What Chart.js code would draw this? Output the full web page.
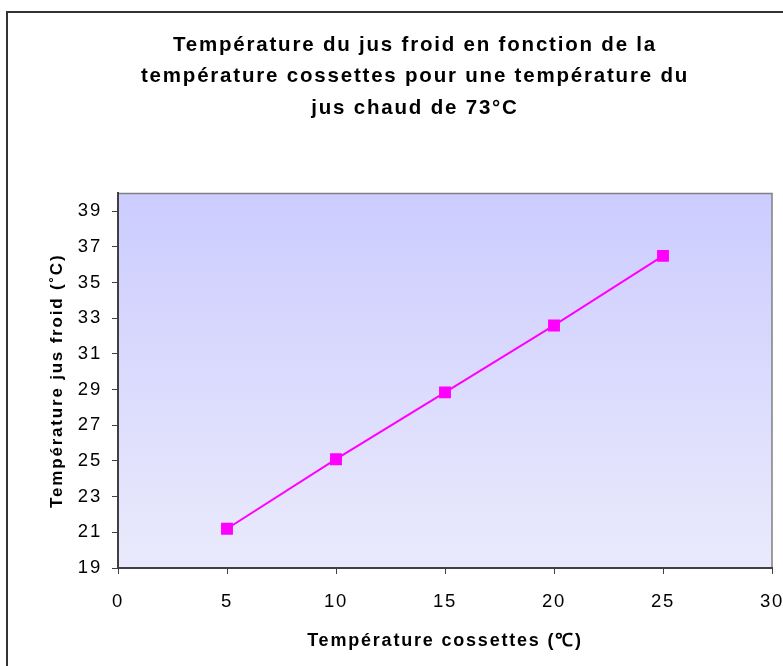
<!DOCTYPE html>
<html>
<head>
<meta charset="utf-8">
<script src="https://cdn.jsdelivr.net/npm/chart.js@4"></script>
<style>
  html, body { margin: 0; padding: 0; background: #ffffff; }
  #wrap { position: relative; width: 783px; height: 666px; }
</style>
</head>
<body>
<div id="wrap"><canvas id="chart" width="783" height="666"></canvas></div>
<script>
// Data
const cossettes = [5, 10, 15, 20, 25];
const jusFroid = [21.2, 25.1, 28.85, 32.6, 36.5];
const xTicks = [0, 5, 10, 15, 20, 25, 30];
const yTicks = [19, 21, 23, 25, 27, 29, 31, 33, 35, 37, 39];

const FONT = "'Liberation Sans', Arial, sans-serif";

// Background gradient, outer frame and top/right plot border
const decor = {
    id: 'decor',
    beforeDraw(chart) {
        const ctx = chart.ctx;
        const a = chart.chartArea;
        ctx.save();
        // outer frame (only top and left visible)
        ctx.strokeStyle = '#333333';
        ctx.lineWidth = 2;
        ctx.beginPath();
        ctx.moveTo(7, 700);
        ctx.lineTo(7, 12);
        ctx.lineTo(800, 12);
        ctx.stroke();
        // plot area gradient
        const g = ctx.createLinearGradient(0, a.top, 0, a.bottom);
        g.addColorStop(0, 'rgb(204,204,255)');
        g.addColorStop(1, 'rgb(234,234,252)');
        ctx.fillStyle = g;
        ctx.fillRect(a.left, a.top, a.right - a.left, a.bottom - a.top);
        // top and right border
        ctx.strokeStyle = '#808080';
        ctx.lineWidth = 1.5;
        ctx.beginPath();
        ctx.moveTo(a.left, a.top);
        ctx.lineTo(a.right, a.top);
        ctx.lineTo(a.right, a.bottom);
        ctx.stroke();
        ctx.restore();
        // the original text is rendered wide, so space the letters a little
        ctx.letterSpacing = '1.8px';
    },
    beforeDatasetsDraw(chart) {
        chart.ctx.letterSpacing = '0px';
    }
};

const ctx = document.getElementById('chart').getContext('2d');
new Chart(ctx, {
    type: 'scatter',
    data: {
        datasets: [{
            data: cossettes.map((x, i) => ({ x: x, y: jusFroid[i] })),
            showLine: true,
            borderColor: '#ff00ff',
            borderWidth: 2,
            backgroundColor: '#ff00ff',
            pointStyle: 'rect',
            pointRadius: 7,
            pointHoverRadius: 7
        }]
    },
    options: {
        responsive: false,
        animation: false,
        layout: { padding: { left: 47, right: 0, top: 0, bottom: 10 } },
        plugins: {
            legend: { display: false },
            tooltip: { enabled: false },
            title: {
                display: true,
                text: ['Température du jus froid en fonction de la',
                       'température cossettes pour une température du',
                       'jus chaud de 73°C'],
                color: '#000000',
                font: { family: FONT, size: 20.5, weight: 'bold', lineHeight: 1.52 },
                padding: { top: 30, bottom: 70 }
            }
        },
        scales: {
            x: {
                type: 'linear',
                min: 0,
                max: 30,
                afterBuildTicks: scale => { scale.ticks = xTicks.map(v => ({ value: v })); },
                afterFit: scale => { scale.height = 88; scale.paddingRight = 11; },
                border: { color: '#404040', width: 2 },
                grid: { drawOnChartArea: false, drawTicks: true, tickLength: 6, color: '#404040' },
                ticks: { color: '#000000', padding: 17, font: { family: FONT, size: 18.5 } },
                title: {
                    display: true,
                    text: 'Température cossettes (℃)',
                    color: '#000000',
                    font: { family: FONT, size: 18, weight: 'bold' },
                    padding: { top: 4 }
                }
            },
            y: {
                type: 'linear',
                min: 19,
                max: 40,
                afterBuildTicks: scale => { scale.ticks = yTicks.map(v => ({ value: v })); },
                afterFit: scale => { scale.width = 71; },
                border: { color: '#404040', width: 2 },
                grid: { drawOnChartArea: false, drawTicks: true, tickLength: 6, color: '#404040' },
                ticks: { color: '#000000', padding: 10, font: { family: FONT, size: 18.5 } },
                title: {
                    display: true,
                    text: 'Température jus froid (˚C)',
                    color: '#000000',
                    font: { family: FONT, size: 17, weight: 'bold' },
                    padding: 0
                }
            }
        }
    },
    plugins: [decor]
});
</script>
</body>
</html>
